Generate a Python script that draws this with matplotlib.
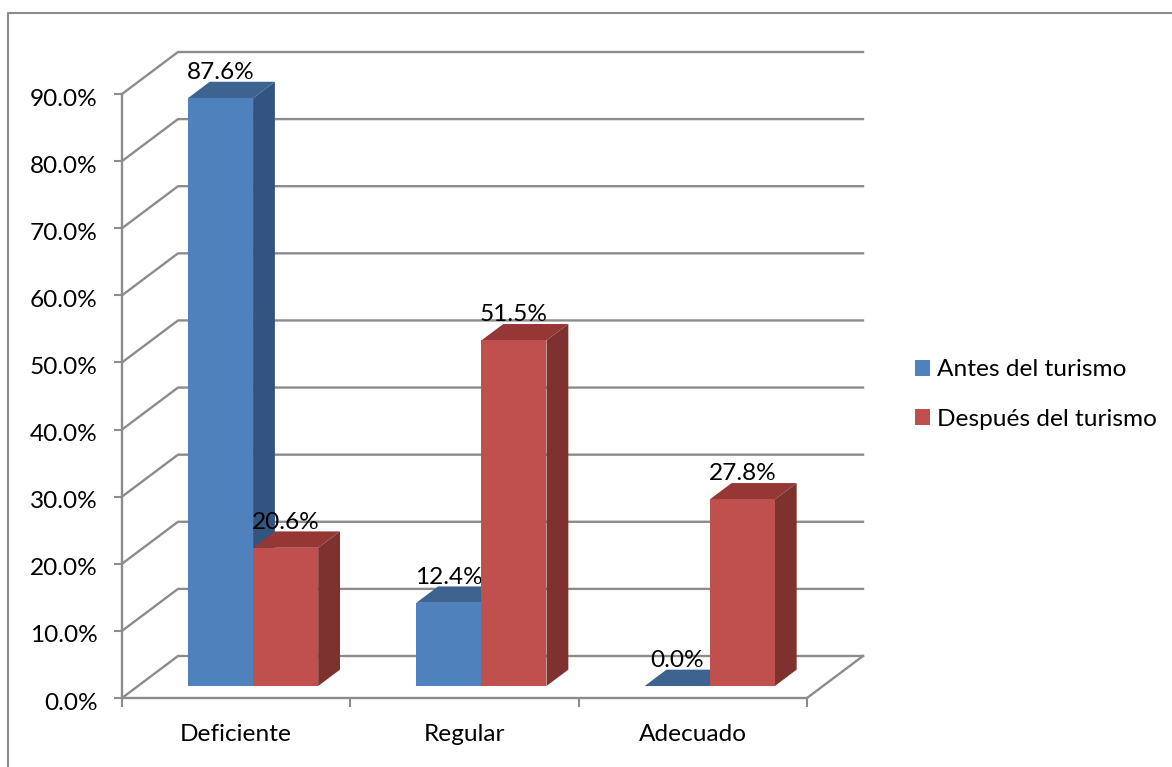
import numpy as np
import matplotlib
matplotlib.use('Agg')
import matplotlib.pyplot as plt
from matplotlib.lines import Line2D
from matplotlib.patches import Patch, Polygon
from matplotlib.transforms import ScaledTranslation

plt.rcParams['font.family'] = ['Lato', 'DejaVu Sans']

categories = ['Deficiente', 'Regular', 'Adecuado']
antes = [87.6, 12.4, 0.0]
despues = [20.6, 51.5, 27.8]
y_ticks = [0, 10, 20, 30, 40, 50, 60, 70, 80, 90]
series_names = ['Antes del turismo', 'Después del turismo']

blue = ('#4F81BD', '#3D6390', '#345480')
red = ('#C0504D', '#953735', '#7D3230')
line_gray = '#8C8C8C'
font_size = 17.6

W, H = 1172, 767
fig = plt.figure(figsize=(W / 100, H / 100), dpi=100)
ax = fig.add_axes([122 / W, 1 - 698 / H, (807 - 122) / W, (698 - 94) / H])
ax.set_xlim(0, 3)
ax.set_ylim(0, 90)

# how far the wall sits behind the front plane, in data units
depth_x = 56 / (685 / 3)
depth_y = 42 / (604 / 90)
bar_w = 65.1 / (685 / 3)
bar_start = 0.219
bar_front = 0.285  # fraction of depth in front of the bar
bar_deep = 0.39  # fraction of depth the bar takes


def box(x, val, colors, z):
    x0 = x + bar_front * depth_x
    x1 = x0 + bar_w
    y0 = bar_front * depth_y
    y1 = y0 + val
    dx, dy = bar_deep * depth_x, bar_deep * depth_y
    ax.add_patch(Polygon([(x1, y0), (x1 + dx, y0 + dy), (x1 + dx, y1 + dy), (x1, y1)],
                         fc=colors[2], ec='none', zorder=z, clip_on=False))
    ax.add_patch(Polygon([(x0, y1), (x0 + dx, y1 + dy), (x1 + dx, y1 + dy), (x1, y1)],
                         fc=colors[1], ec='none', zorder=z, clip_on=False))
    ax.add_patch(Polygon([(x0, y0), (x1, y0), (x1, y1), (x0, y1)],
                         fc=colors[0], ec='none', zorder=z, clip_on=False))
    return (x0 + x1) / 2, y1


# back wall and floor lines
for t in y_ticks:
    ax.plot([0, depth_x, 3 + depth_x], [t, t + depth_y, t + depth_y],
            color=line_gray, lw=1.7, clip_on=False, zorder=1)
ax.plot([3, 3 + depth_x], [0, depth_y], color=line_gray, lw=1.7, clip_on=False, zorder=1)

# blue first, red over it; each label goes just under its own bar
for i in range(3):
    z = 2 + i * 0.01
    x0 = i + bar_start
    xc = x0 + bar_front * depth_x + bar_w / 2
    ax.text(xc, antes[i] + bar_front * depth_y + 3.8, f'{antes[i]:.1f}%', ha='center', va='center',
            fontsize=font_size, color='black', zorder=z)
    box(x0, antes[i], blue, z + 0.001)
for i in range(3):
    z = 3 + i * 0.01
    x0 = i + bar_start + bar_w
    xc = x0 + bar_front * depth_x + bar_w / 2
    ax.text(xc, despues[i] + bar_front * depth_y + 3.8, f'{despues[i]:.1f}%', ha='center', va='center',
            fontsize=font_size, color='black', zorder=z)
    box(x0, despues[i], red, z + 0.001)

for s in ['top', 'right']:
    ax.spines[s].set_visible(False)
for s in ['left', 'bottom']:
    ax.spines[s].set_color(line_gray)
    ax.spines[s].set_linewidth(1.7)
ax.patch.set_alpha(0)

ax.set_yticks(y_ticks)
ax.set_yticklabels([f'{t:.1f}%' for t in y_ticks], fontsize=font_size)
ax.tick_params(axis='y', length=5.5, width=1.5, color=line_gray, pad=12)
# labels sit about 3 px below their ticks in the original
down = ScaledTranslation(0, -3 / 100, fig.dpi_scale_trans)
for lab in ax.get_yticklabels():
    lab.set_transform(lab.get_transform() + down)
ax.set_xticks([0, 1, 2, 3])
ax.set_xticklabels([])
ax.tick_params(axis='x', which='major', length=6.5, width=1.5, color=line_gray)
ax.set_xticks([0.5, 1.5, 2.5], minor=True)
ax.set_xticklabels(categories, minor=True, fontsize=font_size)
ax.tick_params(axis='x', which='minor', length=0, pad=19)

handles = [Patch(fc=blue[0], ec='none'), Patch(fc=red[0], ec='none')]
fig.legend(handles, series_names, loc='upper left', bbox_to_anchor=(915 / W, 1 - 359.5 / H),
           bbox_transform=fig.transFigure, frameon=False, fontsize=font_size,
           borderaxespad=0, borderpad=0, handlelength=0.614, handleheight=0.614,
           handletextpad=0.3, labelspacing=1.15)

# outer frame, runs off the right and bottom of the picture
fig.add_artist(Line2D([8 / W, 8 / W, 1], [0, 1 - 13 / H, 1 - 13 / H],
                      color=line_gray, lw=1.5, transform=fig.transFigure))

fig.savefig('out.png', dpi=100)
